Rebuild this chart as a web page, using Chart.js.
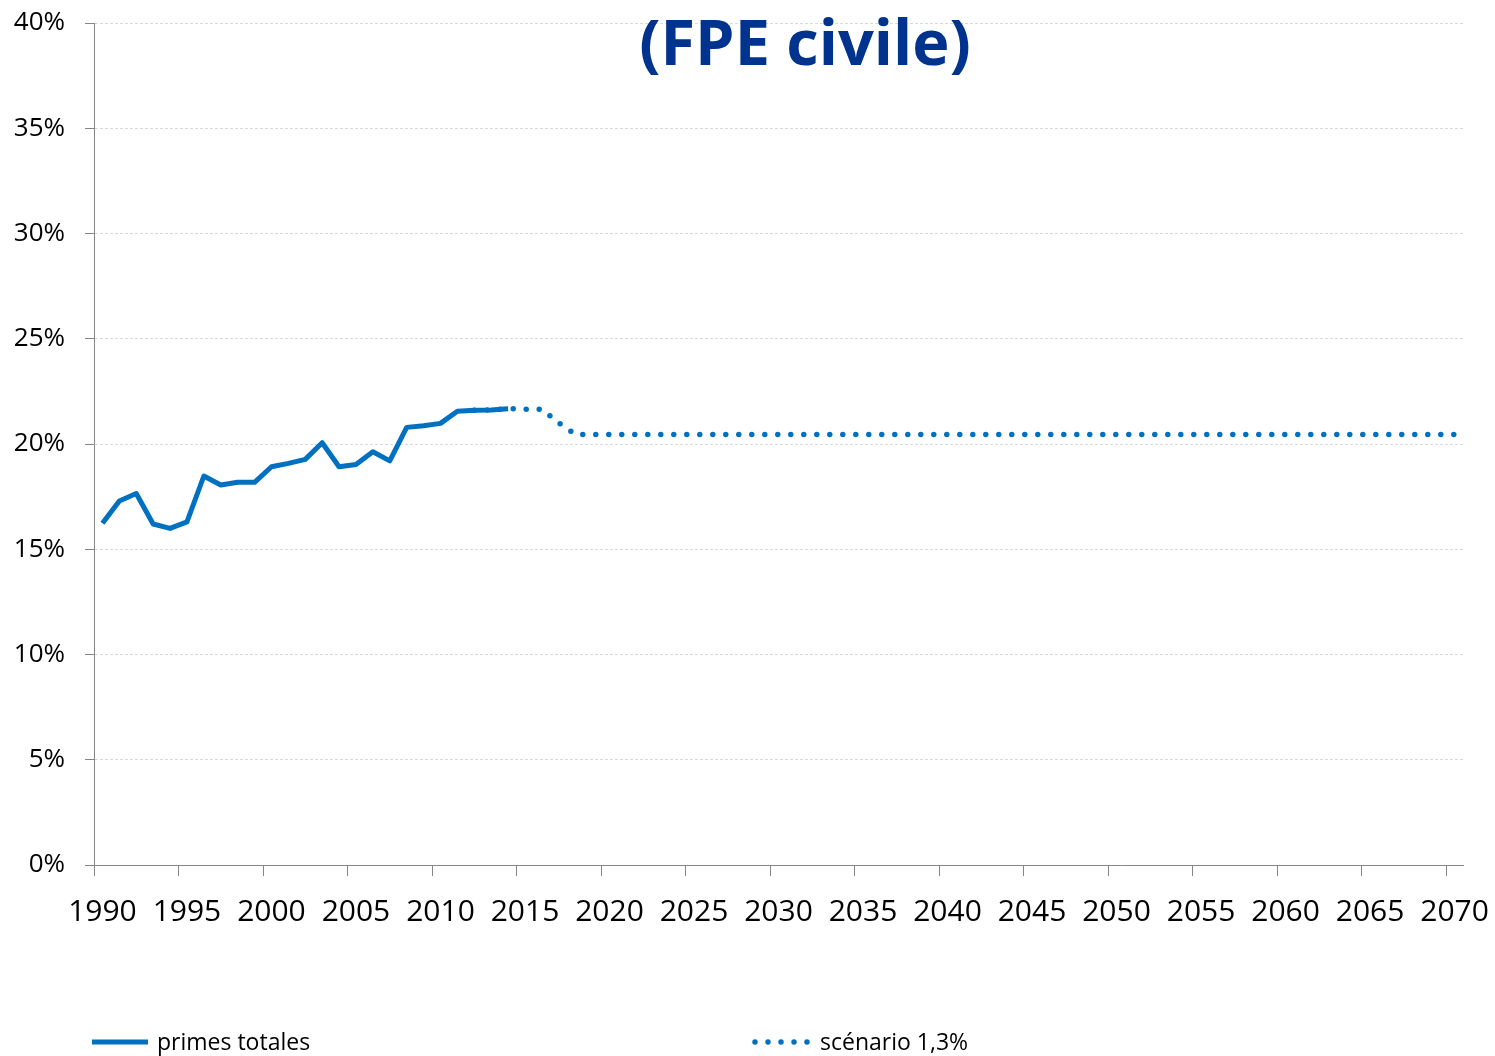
<!DOCTYPE html>
<html>
<head>
<meta charset="utf-8">
<script src="https://cdn.jsdelivr.net/npm/chart.js@4"></script>
<style>
  body { margin: 0; background: #fff; }
</style>
</head>
<body>
<canvas id="myChart" width="1495" height="1056"></canvas>
<script>
// années 1990 -> 2070
const years = [];
for (let y = 1990; y <= 2070; y++) years.push(String(y));

// primes totales (1990-2014), en %
const primesTotales = [
  16.23, 17.29, 17.65, 16.2, 15.99, 16.3, 18.48, 18.05, 18.18, 18.18,
  18.92, 19.08, 19.27, 20.06, 18.92, 19.03, 19.63, 19.2, 20.79, 20.87,
  20.98, 21.56, 21.6, 21.62, 21.68,
];

// scénario 1,3% (à partir de 2012), en %
const scenario = [
  null, null, null, null, null, null, null, null, null, null,
  null, null, null, null, null, null, null, null, null, null,
  null, null,
  21.6, 21.62, 21.68, 21.65, 21.65, 21.0, 20.45, 20.45,
  20.45, 20.45, 20.45, 20.45, 20.45, 20.45, 20.45, 20.45, 20.45, 20.45,
  20.45, 20.45, 20.45, 20.45, 20.45, 20.45, 20.45, 20.45, 20.45, 20.45,
  20.45, 20.45, 20.45, 20.45, 20.45, 20.45, 20.45, 20.45, 20.45, 20.45,
  20.45, 20.45, 20.45, 20.45, 20.45, 20.45, 20.45, 20.45, 20.45, 20.45,
  20.45, 20.45, 20.45, 20.45, 20.45, 20.45, 20.45, 20.45, 20.45, 20.45,
  20.45,
];

const yTicks = [0, 5, 10, 15, 20, 25, 30, 35, 40];

const blue = "#0070c0";
const axisGray = "#868686";

Chart.defaults.font.family = "'Open Sans', sans-serif";
Chart.defaults.color = "#000";

// titre dessiné par-dessus la zone du graphique
const titlePlugin = {
  id: "overTitle",
  afterDraw(chart) {
    const c = chart.ctx;
    c.save();
    c.font = "bold 63px 'Open Sans', sans-serif";
    c.fillStyle = "#00338d";
    c.textAlign = "center";
    c.textBaseline = "alphabetic";
    c.fillText("(FPE civile)", 805, 65);
    c.restore();
  },
};

// légende en bas, deux entrées écartées comme dans Excel
const legendPlugin = {
  id: "bottomLegend",
  afterDraw(chart) {
    const c = chart.ctx;
    const items = [
      { x: 92, ds: chart.data.datasets[0] },
      { x: 755, ds: chart.data.datasets[1] },
    ];
    const yLine = 1042;
    items.forEach((it) => {
      c.save();
      c.strokeStyle = it.ds.borderColor;
      c.lineWidth = it.ds.borderWidth;
      c.lineCap = it.ds.borderCapStyle || "butt";
      c.setLineDash(it.ds.borderDash || []);
      c.beginPath();
      c.moveTo(it.x, yLine);
      c.lineTo(it.x + 56, yLine);
      c.stroke();
      c.restore();
      c.save();
      c.font = "23px 'Open Sans', sans-serif";
      c.fillStyle = "#000";
      c.textBaseline = "alphabetic";
      c.fillText(it.ds.label, it.x + 65, 1050);
      c.restore();
    });
  },
};

new Chart(document.getElementById("myChart"), {
  type: "line",
  data: {
    labels: years,
    datasets: [
      {
        label: "primes totales",
        data: primesTotales,
        borderColor: blue,
        borderWidth: 5,
        borderJoinStyle: "round",
        pointRadius: 0,
        tension: 0,
        order: 1,
      },
      {
        label: "scénario 1,3%",
        data: scenario,
        borderColor: blue,
        borderWidth: 5.5,
        borderDash: [0, 13],
        borderCapStyle: "round",
        pointRadius: 0,
        tension: 0,
        order: 0,
      },
    ],
  },
  options: {
    responsive: false,
    animation: false,
    layout: { padding: { top: 23, right: 32, left: 0, bottom: 0 } },
    plugins: {
      legend: { display: false },
      tooltip: { enabled: false },
    },
    scales: {
      x: {
        type: "category",
        offset: true,
        grid: {
          offset: true,
          drawOnChartArea: false,
          tickLength: 11,
          tickColor: (ctx) =>
            ctx.tick && Number(years[ctx.index]) % 5 === 0 ? axisGray : "rgba(0,0,0,0)",
        },
        border: { color: axisGray, width: 1 },
        ticks: {
          autoSkip: false,
          maxRotation: 0,
          minRotation: 0,
          padding: 18,
          font: { size: 30 },
          callback: (value, index) => (Number(years[index]) % 5 === 0 ? years[index] : ""),
        },
        afterFit: (scale) => {
          scale.height = 191;
          scale.paddingLeft = 0;
          scale.paddingRight = 0;
        },
      },
      y: {
        min: 0,
        max: 40,
        afterBuildTicks: (scale) => {
          scale.ticks = yTicks.map((v) => ({ value: v }));
        },
        grid: {
          color: "#d9d9d9",
          tickColor: axisGray,
          tickLength: 9,
          tickBorderDash: [],
        },
        border: { color: axisGray, width: 1, dash: [3, 2] },
        ticks: {
          padding: 20,
          font: { size: 26 },
          callback: (v) => v + "%",
        },
        afterFit: (scale) => {
          scale.width = 94;
          scale.paddingTop = 0;
          scale.paddingBottom = 0;
        },
      },
    },
  },
  plugins: [titlePlugin, legendPlugin],
});
</script>
</body>
</html>
